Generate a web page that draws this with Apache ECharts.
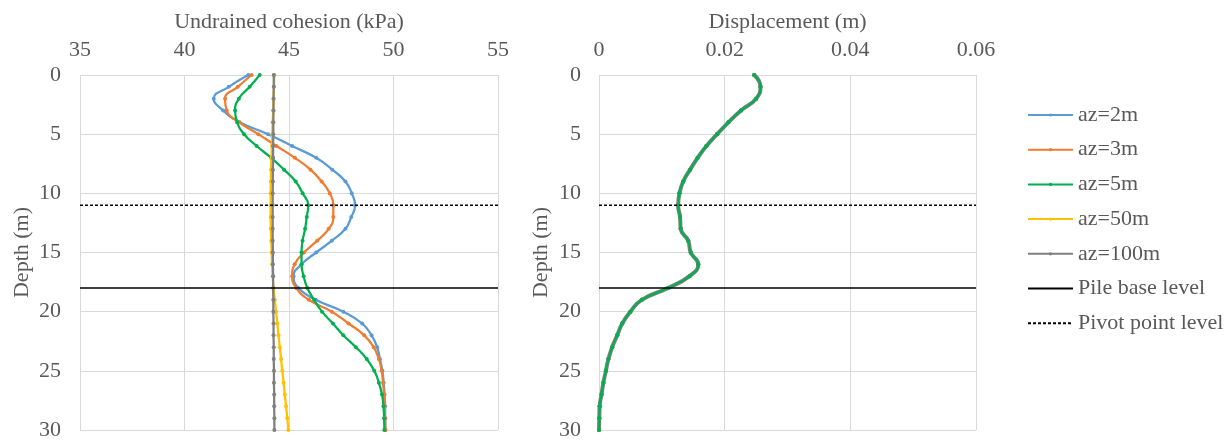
<!DOCTYPE html>
<html>
<head>
<meta charset="utf-8">
<script src="https://cdn.jsdelivr.net/npm/echarts@6/dist/echarts.min.js"></script>
<style>
  html, body { margin: 0; padding: 0; background: #ffffff; }
  #chart { width: 1230px; height: 441px; }
</style>
</head>
<body>
<div id="chart"></div>
<script>
// Depth below ground (m), one reading per metre
const depth = [0,1,2,3,4,5,6,7,8,9,10,11,12,13,14,15,16,17,18,19,20,21,22,23,24,25,26,27,28,29,30];

// Undrained cohesion profiles (kPa) for each correlation length az
const cuAz2 = [43.05,42.12,41.4,41.85,42.64,44.0,45.15,46.3,47.07,47.7,48.0,48.16,47.98,47.7,47.05,46.3,45.6,45.22,45.45,46.28,47.6,48.5,48.95,49.22,49.35,49.47,49.53,49.57,49.6,49.6,49.6];
const cuAz3 = [43.21,42.55,41.94,42.02,42.62,43.53,44.4,45.28,46.03,46.56,46.95,47.12,47.12,46.9,46.35,45.72,45.27,45.15,45.35,45.95,47.05,47.85,48.6,49.05,49.3,49.43,49.5,49.55,49.58,49.6,49.62];
const cuAz5 = [43.6,43.12,42.6,42.42,42.52,42.85,43.45,44.15,44.76,45.32,45.65,45.92,45.85,45.77,45.65,45.6,45.6,45.7,45.88,46.2,46.58,47.1,47.6,48.2,48.72,49.08,49.3,49.45,49.52,49.55,49.56];
const cuAz50 = [44.3,44.28,44.26,44.24,44.22,44.2,44.18,44.16,44.14,44.13,44.12,44.12,44.12,44.13,44.15,44.17,44.19,44.22,44.26,44.32,44.38,44.44,44.5,44.56,44.62,44.68,44.74,44.8,44.86,44.92,44.97];
const cuAz100 = [44.27,44.27,44.26,44.26,44.25,44.25,44.24,44.24,44.23,44.23,44.22,44.22,44.22,44.22,44.22,44.23,44.23,44.24,44.24,44.25,44.25,44.26,44.26,44.27,44.27,44.28,44.28,44.29,44.29,44.3,44.3];

// Lateral pile displacement (m); the five profiles coincide
const dispAll = [0.0247,0.0257,0.0250,0.0226,0.0206,0.0188,0.0171,0.0157,0.0145,0.0134,0.0128,0.0126,0.0129,0.0130,0.0142,0.0146,0.0158,0.0144,0.0110,0.0068,0.0050,0.0037,0.0029,0.0021,0.0015,0.0011,0.0007,0.0004,0.0001,0.00005,0];

// Reference levels (m)
const pileBaseLevel = 18;
const pivotPointLevel = 11;

// Axis ranges
const cuRange = [35, 55, 5];
const dispRange = [0, 0.06, 0.02];
const depthRange = [0, 30, 5];

const seriesNames = ['az=2m', 'az=3m', 'az=5m', 'az=50m', 'az=100m'];
const levelNames = ['Pile base level', 'Pivot point level'];
const seriesColors = ['#5B9BD5', '#ED7D31', '#00B050', '#FFC000', '#7F7F7F'];
const cuSets = [cuAz2, cuAz3, cuAz5, cuAz50, cuAz100];

const FONT = 'Liberation Serif';
const TEXT = '#595959';
const GRID = '#d9d9d9';

function pairs(xs) { return xs.map((x, i) => [x, depth[i]]); }

function xAxisFor(idx, range, title) {
  return {
    type: 'value', gridIndex: idx, position: 'top',
    min: range[0], max: range[1], interval: range[2],
    name: title, nameLocation: 'middle', nameGap: 42,
    nameTextStyle: { fontFamily: FONT, fontSize: 22, color: TEXT },
    axisLine: { show: false }, axisTick: { show: false },
    axisLabel: { fontFamily: FONT, fontSize: 22, color: TEXT, margin: 14 },
    splitLine: { show: true, lineStyle: { color: GRID, width: 1 } }
  };
}
function yAxisFor(idx, margin) {
  return {
    type: 'value', gridIndex: idx, inverse: true,
    min: depthRange[0], max: depthRange[1], interval: depthRange[2],
    name: 'Depth (m)', nameLocation: 'middle', nameGap: 47,
    nameTextStyle: { fontFamily: FONT, fontSize: 22, color: TEXT },
    axisLine: { show: false }, axisTick: { show: false },
    axisLabel: { fontFamily: FONT, fontSize: 22, color: TEXT, margin: margin },
    splitLine: { show: true, lineStyle: { color: GRID, width: 1 } }
  };
}

const series = [];
// Cohesion profiles (left panel)
cuSets.forEach((vals, k) => {
  series.push({
    name: seriesNames[k], type: 'line', xAxisIndex: 0, yAxisIndex: 0,
    data: pairs(vals), smooth: 0.5,
    symbol: 'circle', symbolSize: 4, showSymbol: true,
    color: seriesColors[k],
    lineStyle: { width: 2.25, color: seriesColors[k] },
    itemStyle: { color: seriesColors[k] },
    z: k === 4 ? 3 : 2
  });
});
// Displacement profiles (right panel); az=5m drawn above the rest
const dispZ = [2, 2, 5, 2, 3];
const dispW = [2.25, 2.25, 2, 2.25, 4];
seriesNames.forEach((nm, k) => {
  series.push({
    name: nm, type: 'line', xAxisIndex: 1, yAxisIndex: 1,
    data: pairs(dispAll), smooth: 0.5,
    symbol: 'circle', symbolSize: 4, showSymbol: true,
    color: seriesColors[k],
    lineStyle: { width: dispW[k], color: seriesColors[k] },
    itemStyle: { color: seriesColors[k] },
    z: dispZ[k]
  });
});
// Horizontal reference levels in both panels
[[0, cuRange], [1, dispRange]].forEach(([ax, r]) => {
  series.push({
    name: levelNames[0], type: 'line', xAxisIndex: ax, yAxisIndex: ax,
    data: [[r[0], pileBaseLevel], [r[1], pileBaseLevel]],
    symbol: 'none', color: '#000000',
    lineStyle: { width: 1.5, color: '#000000', type: 'solid' }, z: 6
  });
  series.push({
    name: levelNames[1], type: 'line', xAxisIndex: ax, yAxisIndex: ax,
    data: [[r[0], pivotPointLevel], [r[1], pivotPointLevel]],
    symbol: 'none', color: '#000000',
    lineStyle: { width: 1.5, color: '#000000', type: [3, 2] }, z: 6
  });
});

// Legend entries: profile lines with a dot, reference levels as plain lines
const legendData = seriesNames.map(n => ({ name: n }))
  .concat(levelNames.map(n => ({ name: n, itemStyle: { opacity: 0 } })));

const chart = echarts.init(document.getElementById('chart'), null, { renderer: 'canvas' });
chart.setOption({
  animation: false,
  backgroundColor: '#ffffff',
  grid: [
    { left: 80, top: 75, width: 418, height: 356, containLabel: false },
    { left: 599, top: 75, width: 377, height: 356, containLabel: false }
  ],
  xAxis: [
    xAxisFor(0, cuRange, 'Undrained cohesion (kPa)'),
    xAxisFor(1, dispRange, 'Displacement (m)')
  ],
  yAxis: [yAxisFor(0, 19), yAxisFor(1, 18)],
  legend: {
    orient: 'vertical', left: 1022, top: 99,
    itemWidth: 45, itemHeight: 4, itemGap: 12.7,
    data: legendData,
    textStyle: { fontFamily: FONT, fontSize: 22, color: TEXT, lineHeight: 22 }
  },
  series: series
});
</script>
</body>
</html>
